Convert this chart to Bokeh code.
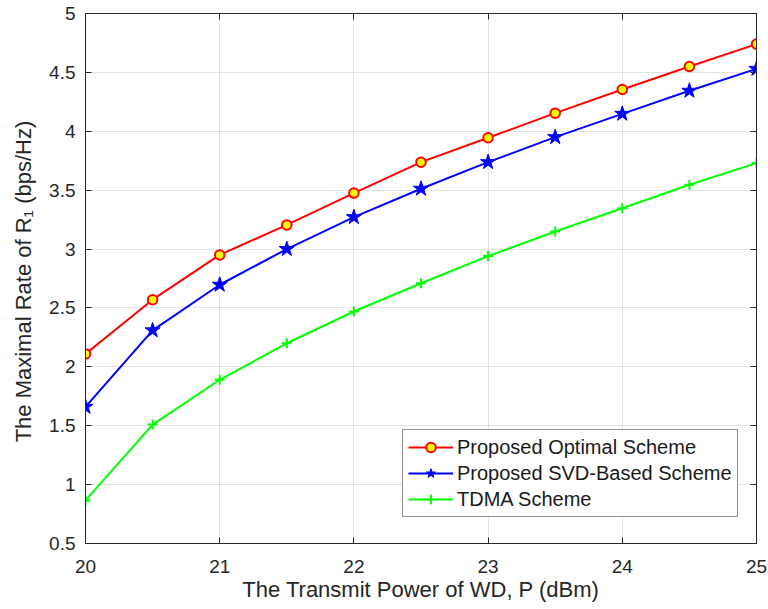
from bokeh.plotting import figure
from bokeh.models import Range1d, FixedTicker, LinearAxis, Legend, LegendItem
from bokeh.embed import file_html
from bokeh.resources import INLINE

power = [20, 20.5, 21, 21.5, 22, 22.5, 23, 23.5, 24, 24.5, 25]
optimal = [2.11, 2.57, 2.95, 3.205, 3.475, 3.738, 3.945, 4.154, 4.355, 4.55, 4.74]
svd = [1.66, 2.31, 2.697, 3.0, 3.271, 3.512, 3.738, 3.95, 4.148, 4.344, 4.53]
tdma = [0.866, 1.51, 1.89, 2.2, 2.47, 2.71, 2.94, 3.149, 3.347, 3.546, 3.73]

x_ticks = [20, 21, 22, 23, 24, 25]
y_ticks = [0.5, 1, 1.5, 2, 2.5, 3, 3.5, 4, 4.5, 5]
y_labels = {0.5: "0.5", 1: "1", 1.5: "1.5", 2: "2", 2.5: "2.5", 3: "3",
            3.5: "3.5", 4: "4", 4.5: "4.5", 5: "5"}

FONT = "Liberation Sans"
AX = "#262626"

p = figure(width=768, height=609, output_backend="svg", toolbar_location=None,
           x_range=Range1d(20, 25), y_range=Range1d(0.5, 5),
           min_border_left=85, min_border_right=12, min_border_top=13,
           min_border_bottom=66, background_fill_color="white",
           border_fill_color="white", outline_line_color=AX)

for ax in (p.xaxis[0], p.yaxis[0]):
    ax.axis_line_color = AX
    ax.major_tick_line_color = AX
    ax.major_tick_in = 6
    ax.major_tick_out = 0
    ax.minor_tick_line_color = None
    ax.major_label_text_font = FONT
    ax.major_label_text_font_size = "19px"
    ax.major_label_text_color = AX
    ax.axis_label_text_font = FONT
    ax.axis_label_text_font_size = "22px"
    ax.axis_label_text_font_style = "normal"
    ax.axis_label_text_color = AX

p.xaxis[0].ticker = FixedTicker(ticks=x_ticks)
p.yaxis[0].ticker = FixedTicker(ticks=y_ticks)
p.yaxis[0].major_label_overrides = y_labels
p.xaxis[0].major_label_standoff = 16
p.xaxis[0].axis_label_standoff = 1
p.yaxis[0].major_label_standoff = 10
p.yaxis[0].axis_label_standoff = 10
p.xaxis[0].axis_label = "The Transmit Power of WD, P (dBm)"
p.yaxis[0].axis_label = "The Maximal Rate of  R\u2081 (bps/Hz)"

# box-style ticks on top and right (no labels drawn)
top = LinearAxis(ticker=FixedTicker(ticks=x_ticks), major_label_text_font_size="1px",
                 major_label_text_color=None, major_label_standoff=0,
                 major_tick_in=6, major_tick_out=0,
                 minor_tick_line_color=None, axis_line_color=AX, major_tick_line_color=AX)
right = LinearAxis(ticker=FixedTicker(ticks=y_ticks), major_label_text_font_size="1px",
                   major_label_text_color=None, major_label_standoff=0,
                   major_tick_in=6, major_tick_out=0,
                   minor_tick_line_color=None, axis_line_color=AX, major_tick_line_color=AX)
p.add_layout(top, "above")
p.add_layout(right, "right")

p.xgrid.ticker = FixedTicker(ticks=x_ticks)
p.ygrid.ticker = FixedTicker(ticks=y_ticks)
for g in (p.xgrid[0], p.ygrid[0]):
    g.grid_line_color = AX
    g.grid_line_alpha = 0.13
    g.grid_line_width = 1

l1 = p.line(power, optimal, line_color="#ff0000", line_width=2)
m1 = p.scatter(power, optimal, marker="circle", size=9.5, fill_color="#ffff00",
               line_color="#ff0000", line_width=2)
l2 = p.line(power, svd, line_color="#0000ff", line_width=2)
m2 = p.scatter(power, svd, marker="star", size=16, fill_color="#0000ff",
               line_color="#0000ff", line_width=1)
l3 = p.line(power, tdma, line_color="#00ff00", line_width=2)
m3 = p.scatter(power, tdma, marker="cross", size=10, fill_color=None,
               line_color="#00ff00", line_width=2)

legend = Legend(items=[
    LegendItem(label="Proposed Optimal Scheme", renderers=[l1, m1]),
    LegendItem(label="Proposed SVD-Based Scheme", renderers=[l2, m2]),
    LegendItem(label="TDMA Scheme", renderers=[l3, m3]),
], location=(317, 26))
legend.label_text_font = FONT
legend.label_text_font_size = "20px"
legend.label_text_color = "#1a1a1a"
legend.glyph_width = 45
legend.glyph_height = 24
legend.label_height = 24
legend.label_standoff = 4
legend.spacing = 2
legend.padding = 5
legend.margin = 0
legend.border_line_color = AX
legend.border_line_width = 1
legend.background_fill_color = "white"
legend.background_fill_alpha = 1
p.add_layout(legend, "center")

open("out.html", "w").write(file_html(p, INLINE))
